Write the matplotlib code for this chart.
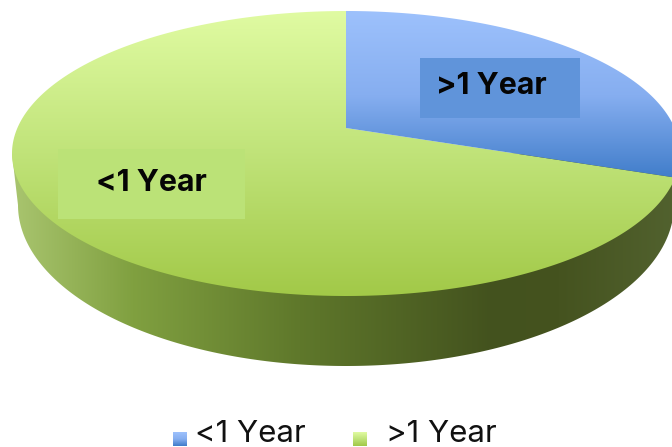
import numpy as np
import matplotlib
matplotlib.use('Agg')
import matplotlib.pyplot as plt
from matplotlib.colors import LinearSegmentedColormap
from matplotlib.patches import Polygon, Rectangle

labels = ['<1 Year', '>1 Year']
shares = [72.3, 27.7]

W, H = 672, 447

# top face and bottom rim of the disc, in pixels
cx, cy, rx, ry = 346, 153.5, 334, 142.5
apex_y = 128
low_cy, low_rx, low_ry = 205, 328, 161


def ramp(colors):
    return LinearSegmentedColormap.from_list('r', colors)


def fill(ax, patch, cmap, vertical=True, extent=(0, W, H, 0)):
    # gradient image cut out by the patch
    g = np.linspace(0, 1, 256)
    g = g.reshape(-1, 1) if vertical else g.reshape(1, -1)
    im = ax.imshow(g, cmap=cmap, extent=extent, aspect='auto', vmin=0, vmax=1,
                   interpolation='bilinear')
    patch.set_transform(ax.transData)
    im.set_clip_path(patch)


def rim_point(t):
    return cx + rx * np.cos(t), cy - ry * np.sin(t)


fig = plt.figure(figsize=(W / 100, H / 100), dpi=100)
ax = fig.add_axes([0, 0, 1, 1])

side_cmap = ramp([(0, '#a9c56f'), (0.18, '#80a040'), (0.43, '#5f782b'),
                  (0.72, '#43521e'), (0.82, '#45531f'), (1, '#52622f')])
green_cmap = ramp(['#e0fba2', '#c0e379', '#a2c948'])
blue_cmap = ramp(['#9dc1fc', '#86aef0', '#3f7cc9'])

# side wall
t = np.linspace(np.pi, 2 * np.pi, 200)
wall = np.column_stack([cx + low_rx * np.cos(t), low_cy - low_ry * np.sin(t)])
wall = np.vstack([[cx - rx, cy], wall, [cx + rx, cy]])
fill(ax, Polygon(wall, closed=True), side_cmap, vertical=False, extent=(12, 680, H, 0))

# slices run clockwise from twelve o'clock, the small one first
blue_sweep = shares[1] / sum(shares) * 2 * np.pi
t_end = np.pi / 2 - blue_sweep

t = np.linspace(np.pi / 2, t_end, 120)
blue = np.vstack([[cx, apex_y], np.column_stack(rim_point(t))])
t = np.linspace(t_end, np.pi / 2 - 2 * np.pi, 400)
green = np.vstack([[cx, apex_y], np.column_stack(rim_point(t))])

fill(ax, Polygon(green, closed=True), green_cmap, extent=(0, W, 296, 11))
fill(ax, Polygon(blue, closed=True), blue_cmap, extent=(0, W, 180, 11))

# label boxes
ax.add_patch(Rectangle((420, 58), 160, 60, fc='#6094da', ec='none'))
ax.add_patch(Rectangle((58, 149), 187, 70, fc='#bbe277', ec='none'))
ax.text(491, 86, labels[1], fontsize=21.8, fontweight='bold', family='Inter',
        ha='center', va='center', color='#050505')
ax.text(151, 183, labels[0], fontsize=21.8, fontweight='bold', family='Inter',
        ha='center', va='center', color='#050505')

# legend
g = np.linspace(0, 1, 64).reshape(-1, 1)
ax.imshow(g, cmap=blue_cmap, extent=(173, 187, 446, 432), aspect='auto')
ax.imshow(g, cmap=green_cmap, extent=(353, 367, 446, 432), aspect='auto')
ax.text(195, 434, labels[0], fontsize=22.5, family='Inter', ha='left', va='center', color='#111111')
ax.text(386, 434, labels[1], fontsize=22.5, family='Inter', ha='left', va='center', color='#111111')

ax.set_xlim(0, W)
ax.set_ylim(H, 0)
ax.axis('off')

fig.savefig('out.png', dpi=100, facecolor='white')
